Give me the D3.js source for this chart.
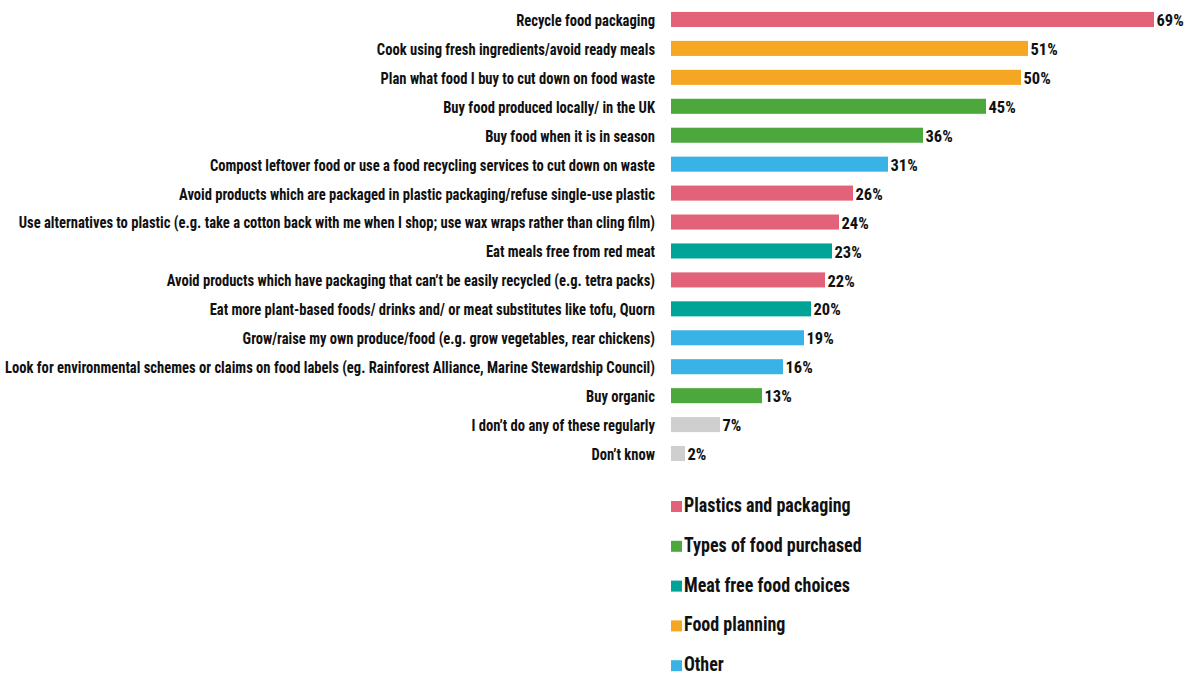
<!DOCTYPE html>
<html><head><meta charset="utf-8">
<script src="https://cdn.jsdelivr.net/npm/d3@7"></script>
<style>
  body { margin: 0; background: #fff; }
  text { font-family: 'Roboto Condensed', 'Roboto', sans-serif; font-weight: 700; fill: #111; }
</style>
</head><body>
<svg width="1192" height="677"></svg>
<script>
const labels = [
  "Recycle food packaging",
  "Cook using fresh ingredients/avoid ready meals",
  "Plan what food I buy to cut down on food waste",
  "Buy food produced locally/ in the UK",
  "Buy food when it is in season",
  "Compost leftover food or use a food recycling services to cut down on waste",
  "Avoid products which are packaged in plastic packaging/refuse single-use plastic",
  "Use alternatives to plastic (e.g. take a cotton back with me when I shop; use wax wraps rather than cling film)",
  "Eat meals free from red meat",
  "Avoid products which have packaging that can’t be easily recycled (e.g. tetra packs)",
  "Eat more plant-based foods/ drinks and/ or meat substitutes like tofu, Quorn",
  "Grow/raise my own produce/food (e.g. grow vegetables, rear chickens)",
  "Look for environmental schemes or claims on food labels (eg. Rainforest Alliance, Marine Stewardship Council)",
  "Buy organic",
  "I don’t do any of these regularly",
  "Don’t know"
];
const values = [69, 51, 50, 45, 36, 31, 26, 24, 23, 22, 20, 19, 16, 13, 7, 2];
const groups = ["plastics", "planning", "planning", "types", "types", "other", "plastics", "plastics",
  "meat", "plastics", "meat", "other", "other", "types", "none", "none"];

const legendKeys = ["plastics", "types", "meat", "planning", "other"];
const legendNames = ["Plastics and packaging", "Types of food purchased", "Meat free food choices", "Food planning", "Other"];

const color = d3.scaleOrdinal()
  .domain(["plastics", "types", "meat", "planning", "other", "none"])
  .range(["#e2627a", "#4ca83c", "#00a497", "#f5a623", "#39b3e6", "#cfcfcf"]);

const svg = d3.select("svg");
const squeeze = 0.9; // reference font is narrower than Roboto Condensed

const x = d3.scaleLinear().domain([0, 69]).range([671, 1154]);
const y = d3.scaleBand().domain(labels).range([5, 468]).paddingInner(0.48).paddingOuter(0.24);

const data = labels.map((l, i) => ({ label: l, value: values[i], group: groups[i] }));

svg.append("g").selectAll("rect").data(data).join("rect")
  .attr("x", x(0))
  .attr("y", d => y(d.label))
  .attr("width", d => x(d.value) - x(0))
  .attr("height", y.bandwidth())
  .attr("fill", d => color(d.group));

// category labels, right aligned left of the bars
svg.append("g")
  .attr("transform", `translate(${x(0) - 16},0) scale(${squeeze},1)`)
  .selectAll("text").data(data).join("text")
  .attr("x", 0)
  .attr("y", d => y(d.label) + y.bandwidth() / 2)
  .attr("dy", "0.4em")
  .attr("text-anchor", "end")
  .style("font-size", "16.2px")
  .text(d => d.label);

// value labels
svg.append("g").selectAll("text").data(data).join("text")
  .attr("x", d => x(d.value) + 2.5)
  .attr("y", d => y(d.label) + y.bandwidth() / 2)
  .attr("dy", "0.4em")
  .style("font-size", "16.5px")
  .text(d => d.value + "%");

// legend
const legend = svg.append("g").attr("transform", "translate(671,501)");
const items = legend.selectAll("g").data(legendKeys).join("g")
  .attr("transform", (d, i) => `translate(0,${i * 39.8})`);
items.append("rect").attr("width", 11).attr("height", 11).attr("fill", d => color(d));
items.append("text")
  .attr("transform", `translate(13,11) scale(${squeeze},1)`)
  .style("font-size", "20px")
  .text((d, i) => legendNames[i]);
</script>
</body></html>
